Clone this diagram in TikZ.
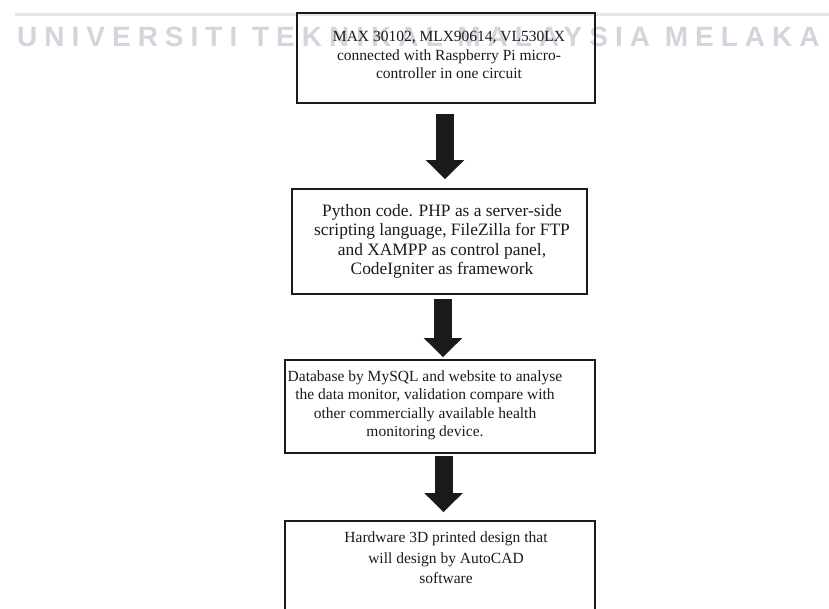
\documentclass[tikz,border=0pt]{standalone}
\usepackage{fontspec}
\setmainfont{Liberation Serif}
\newfontfamily\wmfont[LetterSpace=25]{Liberation Sans}
\usetikzlibrary{arrows.meta,calc}
\definecolor{wmgray}{HTML}{D3D5DC}
\definecolor{wmline}{HTML}{E4E5EA}
\definecolor{ink}{HTML}{1A1A1A}
\tikzset{
  box/.style={draw=ink, line width=1.6pt, inner sep=0pt},
  txt/.style={text=ink, align=center, inner sep=0pt},
  bigarrow/.style={draw=ink, line width=18pt, -{Triangle[width=37pt,length=19pt]}},
}
\begin{document}
\begin{tikzpicture}[x=1pt,y=1pt]
\useasboundingbox (0,0) rectangle (829,-608);
\clip (0,0) rectangle (829,-608);
% watermark
\draw[wmline, line width=3pt] (15,-14) -- (829,-14);
\node[text=wmgray, font=\wmfont\bfseries\fontsize{28}{30}\selectfont, anchor=base west, inner sep=0pt] (wm) at (17,-46) {UNIVERSITI TEKNIKAL MALAYSIA MELAKA};
% boxes
\node[box, minimum width=298pt, minimum height=90pt] (b1) at (446,-58) {};
\node[box, minimum width=295pt, minimum height=105pt] (b2) at (439.5,-241.5) {};
\node[box, minimum width=310pt, minimum height=93pt] (b3) at (440,-406.5) {};
\node[box, minimum width=310pt, minimum height=91pt] (b4) at (440,-566.5) {};
% texts
\node[txt, font=\fontsize{15.5}{18.5}\selectfont] (t1) at ($(b1.center)+(3,3)$) {MAX 30102, MLX90614, VL530LX\\connected with Raspberry Pi micro-\\controller in one circuit};
\node[txt, font=\fontsize{17.4}{19.4}\selectfont] (t2) at ($(b2.center)+(2.5,0)$) {Python code. PHP as a server-side\\scripting language, FileZilla for FTP\\and XAMPP as control panel,\\CodeIgniter as framework};
\node[txt, font=\fontsize{15.5}{18.5}\selectfont] (t3) at ($(b3.center)+(-15,1)$) {Database by MySQL and website to analyse\\the data monitor, validation compare with\\other commercially available health\\monitoring device.};
\node[txt, font=\fontsize{15.5}{20.5}\selectfont] (t4) at ($(b4.center)+(6,8.5)$) {Hardware 3D printed design that\\will design by AutoCAD\\software};
% arrows
\draw[bigarrow] ($(b1.south)+(-1,-10)$) -- ($(b1.south |- b2.north)+(-1,9)$);
\draw[bigarrow] ($(b2.south)+(3.5,-4)$) -- ($(b2.south |- b3.north)+(3.5,2)$);
\draw[bigarrow] ($(b3.south)+(3.5,-2)$) -- ($(b3.south |- b4.north)+(3.5,8)$);
\end{tikzpicture}
\end{document}
